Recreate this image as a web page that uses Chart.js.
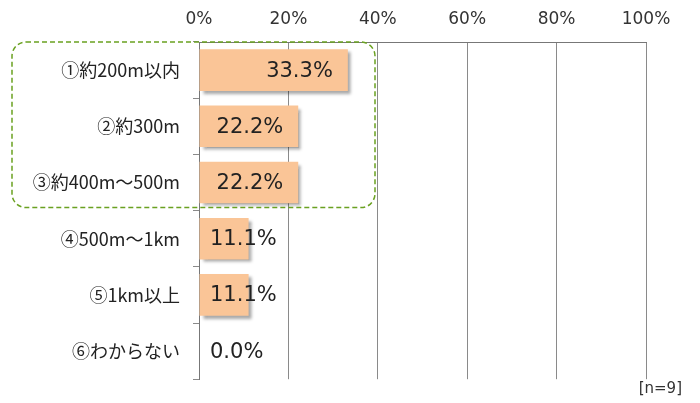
<!DOCTYPE html>
<html>
<head>
<meta charset="utf-8">
<script src="https://cdn.jsdelivr.net/npm/chart.js@4.4.0/dist/chart.umd.min.js"></script>
<style>
  html, body { margin: 0; padding: 0; background: #fff; }
  #wrap { width: 700px; height: 403px; position: relative; }
</style>
</head>
<body>
<div id="wrap"><canvas id="chart" width="700" height="403"></canvas></div>
<script>
const categories = ['①約200m以内', '②約300m', '③約400m～500m', '④500m～1km', '⑤1km以上', '⑥わからない'];
const percentValues = [33.3, 22.2, 22.2, 11.1, 11.1, 0.0];
const tickValues = [0, 20, 40, 60, 80, 100];
const sampleNote = '[n=9]';

const labelFont = '"DejaVu Sans", "Noto Sans CJK JP", sans-serif';
const catFont = '"Noto Sans CJK JP", sans-serif';

// shadow under the bars
const barShadow = {
    id: 'barShadow',
    beforeDatasetDraw(chart) {
        const ctx = chart.ctx;
        ctx.save();
        ctx.shadowColor = 'rgba(0, 0, 0, 0.35)';
        ctx.shadowBlur = 3;
        ctx.shadowOffsetX = 3;
        ctx.shadowOffsetY = 3;
    },
    afterDatasetDraw(chart) {
        chart.ctx.restore();
    }
};

// value labels, dashed box and n note
const extras = {
    id: 'extras',
    afterDraw(chart) {
        const ctx = chart.ctx;
        const meta = chart.getDatasetMeta(0);
        const xScale = chart.scales.x;
        const yScale = chart.scales.y;
        ctx.save();
        ctx.font = '21px ' + labelFont;
        ctx.fillStyle = '#222';
        ctx.textBaseline = 'middle';
        ctx.textAlign = 'left';
        meta.data.forEach((bar, i) => {
            const text = percentValues[i].toFixed(1) + '%';
            const w = ctx.measureText(text).width;
            const base = xScale.getPixelForValue(0);
            const x = Math.max(base + 11, bar.x - 15 - w);
            ctx.fillText(text, x, bar.y + 1);
        });

        // dashed rounded box around the first three rows
        const top = yScale.top;
        const bottom = (yScale.getPixelForValue(2) + yScale.getPixelForValue(3)) / 2 - 3;
        ctx.strokeStyle = '#6aa121';
        ctx.lineWidth = 1.5;
        ctx.setLineDash([5, 3]);
        ctx.beginPath();
        ctx.roundRect(12, top, 363, bottom - top, 14);
        ctx.stroke();
        ctx.setLineDash([]);

        ctx.font = '15px ' + labelFont;
        ctx.fillStyle = '#333';
        ctx.textAlign = 'right';
        ctx.fillText(sampleNote, 682, 389);
        ctx.restore();
    }
};

const ctx = document.getElementById('chart').getContext('2d');
new Chart(ctx, {
    type: 'bar',
    data: {
        labels: categories,
        datasets: [{
            data: percentValues,
            backgroundColor: '#fac597',
            borderWidth: 0,
            barPercentage: 0.74,
            categoryPercentage: 1
        }]
    },
    options: {
        indexAxis: 'y',
        responsive: false,
        animation: false,
        layout: { padding: { top: 0, left: 0, right: 54, bottom: 20 } },
        plugins: {
            legend: { display: false },
            tooltip: { enabled: false }
        },
        scales: {
            x: {
                position: 'top',
                min: 0,
                max: 100,
                afterBuildTicks(scale) {
                    scale.ticks = tickValues.map(v => ({ value: v }));
                },
                afterFit(scale) { scale.height = 42; },
                grid: {
                    color: '#8a8a8a',
                    lineWidth: 1,
                    drawTicks: false
                },
                border: { color: '#777' },
                ticks: {
                    padding: 12,
                    color: '#333',
                    font: { size: 17, family: labelFont },
                    callback: v => v + '%'
                }
            },
            y: {
                afterFit(scale) { scale.width = 199; },
                grid: {
                    drawOnChartArea: false,
                    color: '#8a8a8a',
                    tickLength: 6
                },
                border: { color: '#777' },
                ticks: {
                    padding: 13,
                    color: '#222',
                    font: { size: 18, family: catFont }
                }
            }
        }
    },
    plugins: [barShadow, extras]
});
</script>
</body>
</html>
